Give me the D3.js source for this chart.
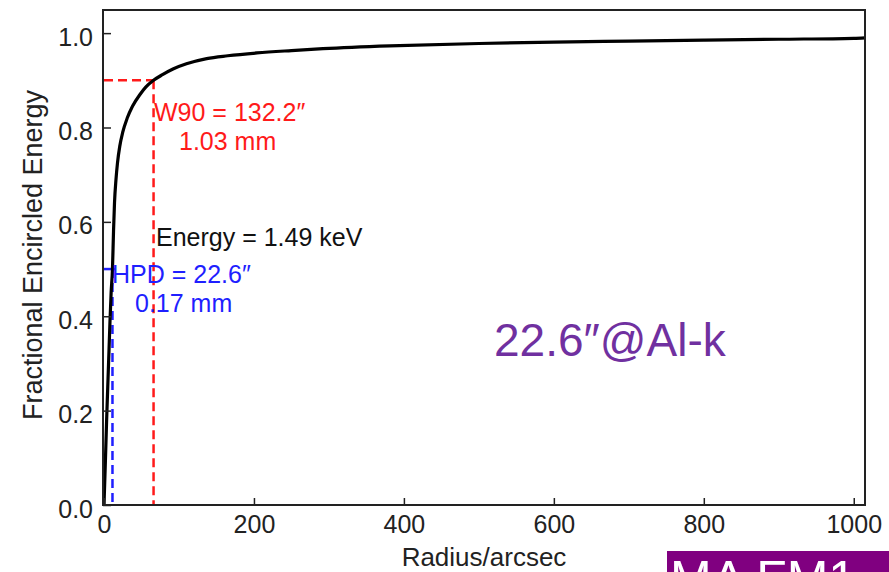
<!DOCTYPE html>
<html>
<head>
<meta charset="utf-8">
<script src="https://cdn.jsdelivr.net/npm/d3@7"></script>
<style>
  html, body { margin: 0; padding: 0; background: #fff; }
  svg { display: block; font-family: "Liberation Sans", Arial, Helvetica, sans-serif; }
</style>
</head>
<body>
<svg id="chart" width="889" height="572"></svg>
<script>
// ---- data ----
const radius = [0, 1, 2, 3.5, 5, 6.5, 8, 9.5, 11.3, 12.7, 14, 16, 18, 21, 25, 31, 38, 48, 56, 66.1, 78, 92, 110, 137, 165, 204, 250, 292, 381, 500, 600, 700, 800, 900, 1000, 1015];
const encircled = [0, 0.05, 0.1, 0.18, 0.25, 0.32, 0.39, 0.45, 0.5, 0.58, 0.64, 0.69, 0.725, 0.76, 0.79, 0.82, 0.845, 0.87, 0.886, 0.9, 0.912, 0.924, 0.935, 0.946, 0.952, 0.958, 0.963, 0.967, 0.973, 0.978, 0.981, 0.983, 0.985, 0.987, 0.989, 0.99];
const xTicks = [0, 200, 400, 600, 800, 1000];
const yTicks = [0, 0.2, 0.4, 0.6, 0.8, 1.0];
const hpdRadius = 11.3, hpdLevel = 0.5;
const w90Radius = 66.1, w90Level = 0.9;
const xLabel = "Radius/arcsec";
const yLabel = "Fractional Encircled Energy";
const w90Text = ["W90 = 132.2\u2033", "1.03 mm"];
const hpdText = ["HPD = 22.6\u2033", "0.17 mm"];
const energyText = "Energy = 1.49 keV";
const bigText = "22.6\u2033@Al-k";
const boxText = "MA FM1";

// ---- layout ----
const svg = d3.select("#chart");
const L = 104, R = 865, T = 10, B = 505;
const x = d3.scaleLinear().domain([0, 1015]).range([L, R]);
const y = d3.scaleLinear().domain([0, 1.049]).range([B, T]);

// curve
const pts = radius.map((r, i) => [r, encircled[i]]);
const line = d3.line().x(d => x(d[0])).y(d => y(d[1])).curve(d3.curveMonotoneX);

// dashed markers
const red = "#ff1a1a", blue = "#1f1fff";
svg.append("line").attr("x1", L).attr("x2", x(w90Radius)).attr("y1", y(w90Level)).attr("y2", y(w90Level))
  .attr("stroke", red).attr("stroke-width", 2.5).attr("stroke-dasharray", "9,5");
svg.append("line").attr("x1", x(w90Radius)).attr("x2", x(w90Radius)).attr("y1", y(w90Level)).attr("y2", B)
  .attr("stroke", red).attr("stroke-width", 2.5).attr("stroke-dasharray", "9,5");
svg.append("line").attr("x1", L).attr("x2", x(hpdRadius) + 3).attr("y1", y(hpdLevel)).attr("y2", y(hpdLevel))
  .attr("stroke", blue).attr("stroke-width", 2.5);
svg.append("line").attr("x1", x(hpdRadius)).attr("x2", x(hpdRadius)).attr("y1", y(hpdLevel)).attr("y2", B)
  .attr("stroke", blue).attr("stroke-width", 2.5).attr("stroke-dasharray", "9,5");

svg.append("path").datum(pts).attr("d", line)
  .attr("fill", "none").attr("stroke", "#000").attr("stroke-width", 3.2)
  .attr("stroke-linejoin", "round");

// frame
svg.append("rect").attr("x", L - 1).attr("y", T).attr("width", R - L + 1).attr("height", B - T)
  .attr("fill", "none").attr("stroke", "#222").attr("stroke-width", 2);

// axes
const xAxis = d3.axisBottom(x).tickValues(xTicks).tickSize(-7).tickPadding(0).tickFormat(d3.format("d"));
const gx = svg.append("g").attr("transform", `translate(0,${B})`).call(xAxis);
gx.select(".domain").remove();
gx.selectAll(".tick line").attr("stroke", "#222").attr("stroke-width", 1.5);
gx.selectAll(".tick text").attr("y", 28).attr("dy", null).attr("font-size", 25)
  .attr("fill", "#222").attr("font-family", "Liberation Sans, Arial, sans-serif");

const yAxis = d3.axisLeft(y).tickValues(yTicks).tickSize(-8).tickPadding(0).tickFormat(d3.format(".1f"));
const gy = svg.append("g").attr("transform", `translate(${L - 1},0)`).call(yAxis);
gy.select(".domain").remove();
gy.selectAll(".tick line").attr("stroke", "#222").attr("stroke-width", 1.5);
gy.selectAll(".tick text").attr("x", -10).attr("dy", 12).attr("font-size", 25)
  .attr("fill", "#222").attr("font-family", "Liberation Sans, Arial, sans-serif");

// axis labels
svg.append("text").attr("x", 484).attr("y", 566).attr("text-anchor", "middle")
  .attr("font-size", 26).attr("fill", "#222").text(xLabel);
svg.append("text").attr("transform", "translate(42,255) rotate(-90)").attr("text-anchor", "middle")
  .attr("font-size", 27).attr("fill", "#222").text(yLabel);

// annotations
svg.append("text").attr("x", 154).attr("y", 121).attr("font-size", 25).attr("fill", red).text(w90Text[0]);
svg.append("text").attr("x", 179).attr("y", 150).attr("font-size", 25).attr("fill", red).text(w90Text[1]);
svg.append("text").attr("x", 156).attr("y", 246).attr("font-size", 25).attr("fill", "#111").text(energyText);
svg.append("text").attr("x", 112).attr("y", 283).attr("font-size", 25).attr("fill", blue).text(hpdText[0]);
svg.append("text").attr("x", 135).attr("y", 312).attr("font-size", 25).attr("fill", blue).text(hpdText[1]);

svg.append("text").attr("x", 494).attr("y", 356).attr("font-size", 46).attr("fill", "#7030a0").text(bigText);

// bottom-right box (text runs off the bottom edge, as in the source)
svg.append("rect").attr("x", 667).attr("y", 551).attr("width", 222).attr("height", 21).attr("fill", "#800080");
svg.append("text").attr("x", 670).attr("y", 596).attr("font-size", 50).attr("fill", "#fff").text(boxText);
</script>
</body>
</html>
